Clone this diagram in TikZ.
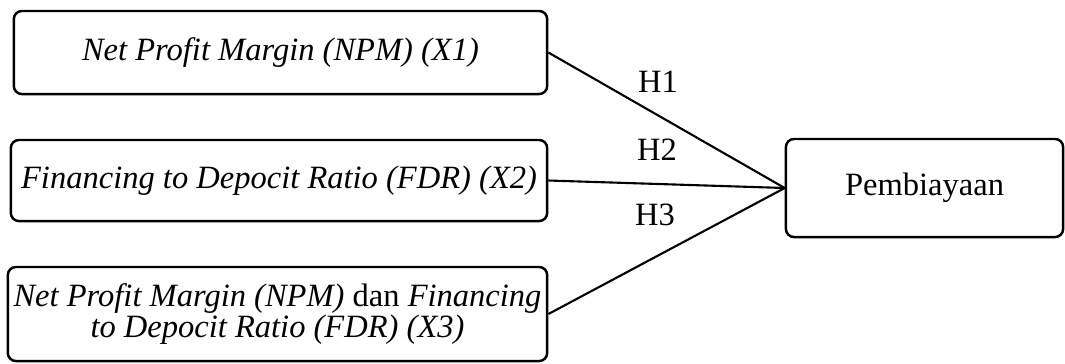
\documentclass[tikz,border=0pt]{standalone}
\usepackage{fontspec}
\setmainfont{Liberation Serif}

\begin{document}
\begin{tikzpicture}[x=0.01cm,y=-0.01cm,
  var/.style={draw,line width=0.7pt,rounded corners=0.08cm,align=center,
    inner sep=0pt,font=\fontsize{9.25}{8.6}\selectfont},
  hyp/.style={font=\fontsize{9.25}{8.6}\selectfont},
  path/.style={line width=0.6pt}]
\useasboundingbox (0,0) rectangle (1065,363);
% independent variables
\node[var,minimum width=5.33cm,minimum height=0.83cm] (x1) at (280.5,52.5)
  {\textit{Net Profit Margin (NPM) (X1)}};
\node[var,minimum width=5.36cm,minimum height=0.81cm] (x2) at (279,180.5)
  {\textit{Financing to Depocit Ratio (FDR) (X2)}};
\node[var,minimum width=5.39cm,minimum height=0.94cm] (x3) at (277.5,314)
  {\textit{Net Profit Margin (NPM)} dan \textit{Financing}\\
   \textit{to Depocit Ratio (FDR) (X3)}};
% dependent variable
\node[var,minimum width=2.77cm,minimum height=0.98cm] (y) at (924.5,188) {Pembiayaan};
\draw[path] (x1.east) -- (y.west);
\draw[path] (x2.east) -- (y.west);
\draw[path] (x3.east) -- (y.west);
\node[hyp] (h1) at (658,82) {H1};
\node[hyp] (h2) at (657,150) {H2};
\node[hyp] (h3) at (655,215) {H3};
\end{tikzpicture}
\end{document}
